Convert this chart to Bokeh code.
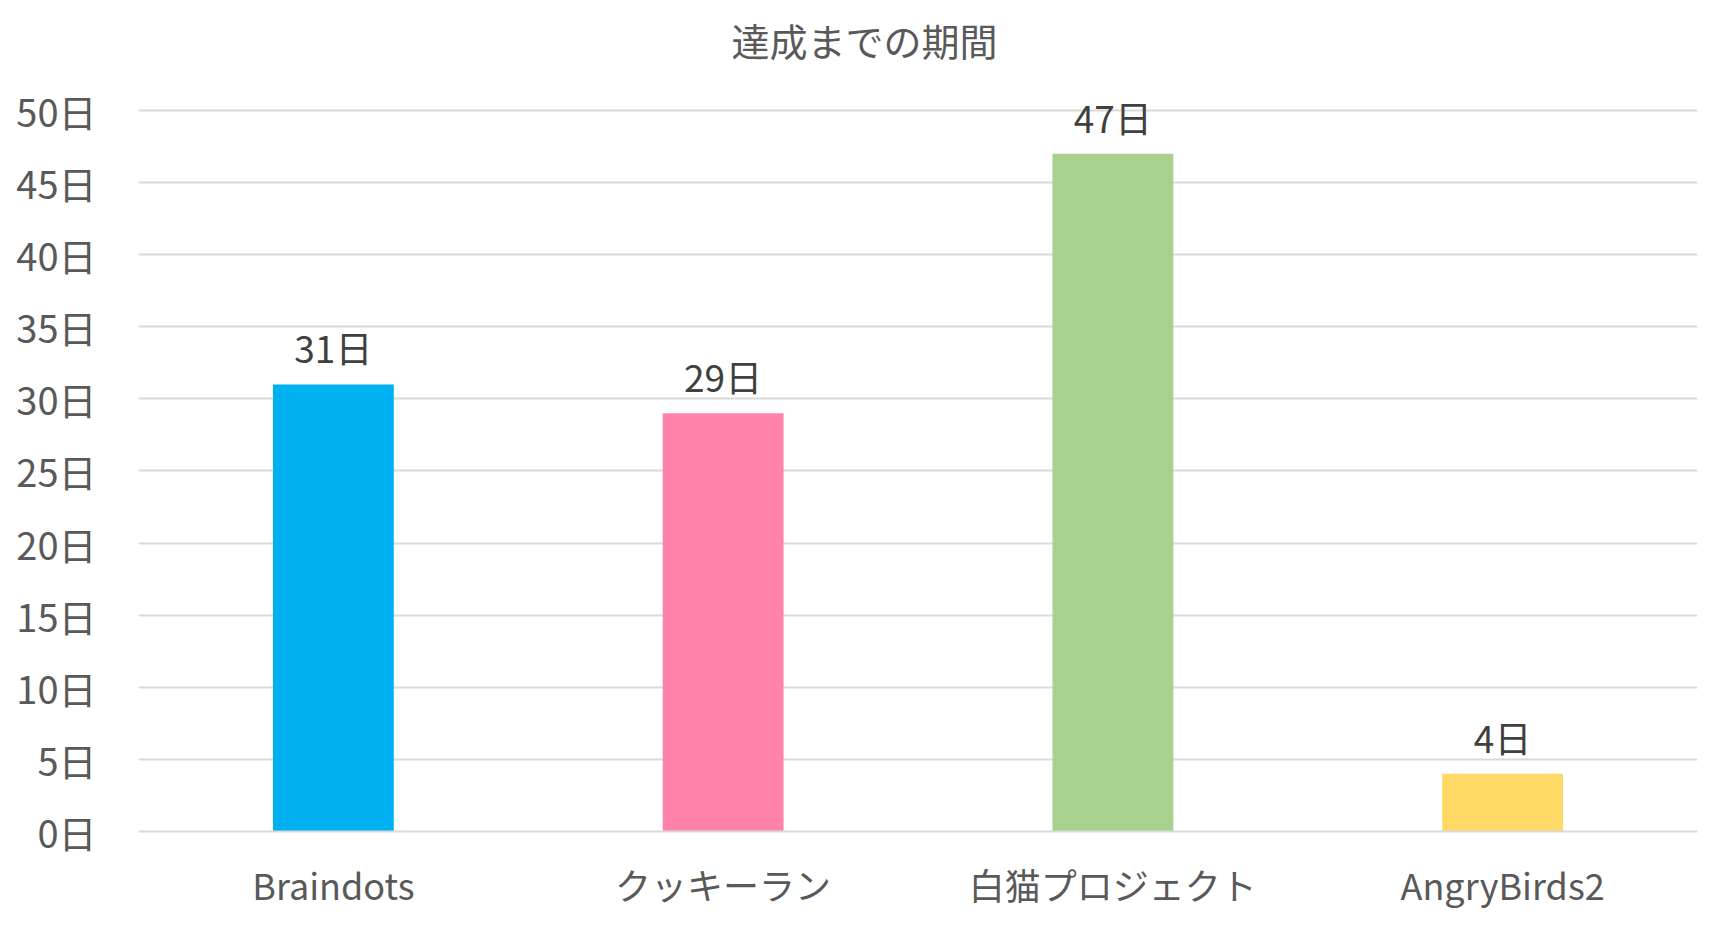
from bokeh.plotting import figure
from bokeh.models import ColumnDataSource, Range1d, FixedTicker, PrintfTickFormatter, LabelSet
from bokeh.core.properties import value
from bokeh.embed import file_html
from bokeh.resources import INLINE

categories = ["Braindots", "クッキーラン", "白猫プロジェクト", "AngryBirds2"]
days = [31, 29, 47, 4]
colors = ["#00b0f0", "#ff82aa", "#a9d18e", "#ffd966"]
y_ticks = [0, 5, 10, 15, 20, 25, 30, 35, 40, 45, 50]
title_text = "達成までの期間"

FONT = "Noto Sans CJK JP"

src = ColumnDataSource(dict(cat=categories, val=days, color=colors,
                            lab=[f"{d}日" for d in days]))

p = figure(x_range=categories, y_range=Range1d(0, 52.35), width=1709, height=912,
           output_backend="svg", toolbar_location=None,
           min_border_left=138, min_border_right=12, min_border_top=76, min_border_bottom=79)
p.outline_line_color = None
p.background_fill_color = "white"
p.border_fill_color = "white"

p.title.text = title_text
p.title.align = "left"
p.title.offset = 593
p.title.text_font = FONT
p.title.text_font_size = "38px"
p.title.text_font_style = "normal"
p.title.text_color = "#595959"
p.title.standoff = 19

p.vbar(x="cat", top="val", width=0.31, color="color", source=src, line_color=None)

labels = LabelSet(x="cat", y="val", text="lab", source=src, text_align="center",
                  text_baseline="middle", y_offset=37, text_font=value(FONT),
                  text_font_size="37px", text_color="#404040")
p.add_layout(labels)

p.yaxis.ticker = FixedTicker(ticks=y_ticks)
p.yaxis.formatter = PrintfTickFormatter(format="%d日")
p.yaxis.axis_line_color = None
p.yaxis.major_tick_line_color = None
p.yaxis.minor_tick_line_color = None
p.yaxis.major_label_standoff = 36
p.yaxis.major_label_text_font = FONT
p.yaxis.major_label_text_font_size = "38px"
p.yaxis.major_label_text_color = "#595959"

p.xaxis.axis_line_color = "#d9d9d9"
p.xaxis.axis_line_width = 2
p.xaxis.major_tick_line_color = None
p.xaxis.minor_tick_line_color = None
p.xaxis.major_label_standoff = 20
p.xaxis.major_label_text_font = FONT
p.xaxis.major_label_text_font_size = "36px"
p.xaxis.major_label_text_color = "#595959"

p.xgrid.grid_line_color = None
p.ygrid.grid_line_color = "#d9d9d9"
p.ygrid.grid_line_width = 2
p.ygrid.ticker = FixedTicker(ticks=y_ticks)
p.x_range.range_padding = 0.0

open("out.html", "w").write(file_html(p, INLINE))
